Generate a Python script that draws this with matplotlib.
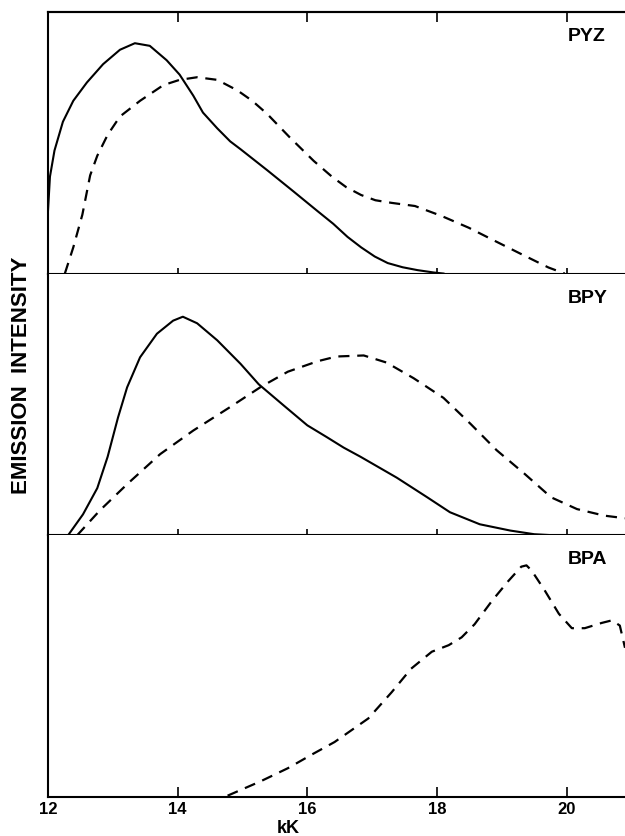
import matplotlib.pyplot as plt

plt.rcParams['font.family'] = ['Liberation Sans', 'DejaVu Sans']
plt.rcParams['font.weight'] = 'bold'

# PYZ panel
pyz_solid_x = [12.0, 12.03, 12.1, 12.23, 12.39, 12.6, 12.85, 13.11, 13.34, 13.57, 13.83, 14.03,
               14.24, 14.39, 14.61, 14.81, 14.97, 15.38, 15.78, 16.15, 16.40, 16.62, 16.83,
               17.04, 17.24, 17.47, 17.70, 17.95, 18.1]
pyz_solid_y = [0.24, 0.37, 0.47, 0.58, 0.66, 0.73, 0.80, 0.855, 0.88, 0.87, 0.815, 0.76,
               0.68, 0.615, 0.555, 0.505, 0.475, 0.395, 0.315, 0.24, 0.19, 0.14, 0.10,
               0.065, 0.04, 0.024, 0.013, 0.004, 0.0]
pyz_dash_x = [12.26, 12.39, 12.53, 12.65, 12.76, 12.92, 13.11, 13.42, 13.78, 14.03, 14.3, 14.61,
              14.92, 15.15, 15.38, 15.73, 16.10, 16.38, 16.6, 16.83, 17.05, 17.30, 17.66,
              18.07, 18.49, 18.89, 19.31, 19.72, 19.97]
pyz_dash_y = [0.0, 0.10, 0.225, 0.375, 0.45, 0.53, 0.60, 0.66, 0.72, 0.74, 0.75, 0.74,
              0.70, 0.66, 0.61, 0.52, 0.43, 0.37, 0.33, 0.30, 0.28, 0.27, 0.258,
              0.22, 0.175, 0.125, 0.073, 0.023, 0.0]

# BPY panel
bpy_solid_x = [12.31, 12.54, 12.76, 12.92, 13.08, 13.22, 13.42, 13.68, 13.93, 14.08, 14.3, 14.61,
               14.97, 15.25, 15.64, 16.0, 16.3, 16.56, 16.82, 17.1, 17.38, 17.85, 18.2, 18.66,
               19.13, 19.5, 19.8]
bpy_solid_y = [0.0, 0.08, 0.18, 0.30, 0.45, 0.565, 0.68, 0.77, 0.82, 0.835, 0.81, 0.745,
               0.655, 0.577, 0.495, 0.42, 0.375, 0.335, 0.30, 0.26, 0.22, 0.145, 0.088, 0.042,
               0.018, 0.004, 0.0]
bpy_dash_x = [12.45, 12.8, 13.22, 13.73, 14.24, 14.81, 15.29, 15.7, 16.16, 16.45, 16.87, 17.22,
              17.64, 18.1, 18.52, 18.92, 19.35, 19.76, 20.16, 20.58, 20.9]
bpy_dash_y = [0.0, 0.095, 0.195, 0.31, 0.40, 0.49, 0.568, 0.625, 0.665, 0.683, 0.687, 0.66,
              0.60, 0.525, 0.425, 0.325, 0.235, 0.145, 0.10, 0.075, 0.065]

# BPA panel
bpa_dash_x = [14.77, 15.28, 15.7, 16.09, 16.42, 16.94, 17.3, 17.6, 17.92, 18.18, 18.38, 18.58,
              18.85, 19.1, 19.3, 19.38, 19.46, 19.66, 19.88, 20.08, 20.28, 20.54, 20.7, 20.82,
              20.9]
bpa_dash_y = [0.005, 0.06, 0.11, 0.165, 0.21, 0.30, 0.40, 0.49, 0.555, 0.58, 0.61, 0.66,
              0.75, 0.825, 0.88, 0.885, 0.865, 0.79, 0.70, 0.645, 0.645, 0.665, 0.675, 0.655,
              0.57]

namen = ['PYZ', 'BPY', 'BPA']
xticks = [12, 14, 16, 18, 20]

fig = plt.figure(figsize=(6.25, 8.37), dpi=100)
links, breite = 0.0768, 1 - 0.0768
unten, hoehe = 0.0466, 0.3127
axes = []
for i in range(3):
    ax = fig.add_axes([links, unten + (2 - i) * hoehe, breite, hoehe])
    axes.append(ax)

strich = dict(color='black', lw=1.6, dashes=(5, 3.5))
axes[0].plot(pyz_solid_x, pyz_solid_y, color='black', lw=1.5)
axes[0].plot(pyz_dash_x, pyz_dash_y, **strich)
axes[1].plot(bpy_solid_x, bpy_solid_y, color='black', lw=1.5)
axes[1].plot(bpy_dash_x, bpy_dash_y, **strich)
axes[2].plot(bpa_dash_x, bpa_dash_y, **strich)

for i, ax in enumerate(axes):
    ax.set_xlim(12, 20.9)
    ax.set_ylim(0, 1)
    ax.set_yticks([])
    ax.spines['right'].set_visible(False)
    ax.spines['top'].set_visible(i == 0)
    for s in ax.spines.values():
        s.set_linewidth(1.5)
    ax.set_xticks(xticks)
    ax.text(0.901, 0.91, namen[i], transform=ax.transAxes, fontsize=14,
            fontweight='bold', ha='left', va='center')
    if i < 2:
        ax.tick_params(axis='x', direction='inout', length=8.5, width=1.2,
                       labelbottom=False)
    else:
        ax.tick_params(axis='x', direction='in', length=7, width=1.2,
                       labelsize=12, pad=3)
        for lab in ax.get_xticklabels():
            lab.set_fontweight('bold')

# obere Achse: Striche nur nach innen
oben = axes[0].secondary_xaxis('top')
oben.set_xticks(xticks)
oben.tick_params(direction='in', length=7, width=1.2, labeltop=False)
oben.spines['top'].set_linewidth(1.5)

axes[2].set_xlabel('kK', fontsize=13, fontweight='bold')
axes[2].xaxis.set_label_coords((15.7 - 12) / 8.9, -0.085)

fig.text(0.035, 0.552, 'EMISSION  INTENSITY', rotation=90, fontsize=16,
         fontweight='bold', ha='center', va='center')

fig.savefig('out.png', dpi=100)
